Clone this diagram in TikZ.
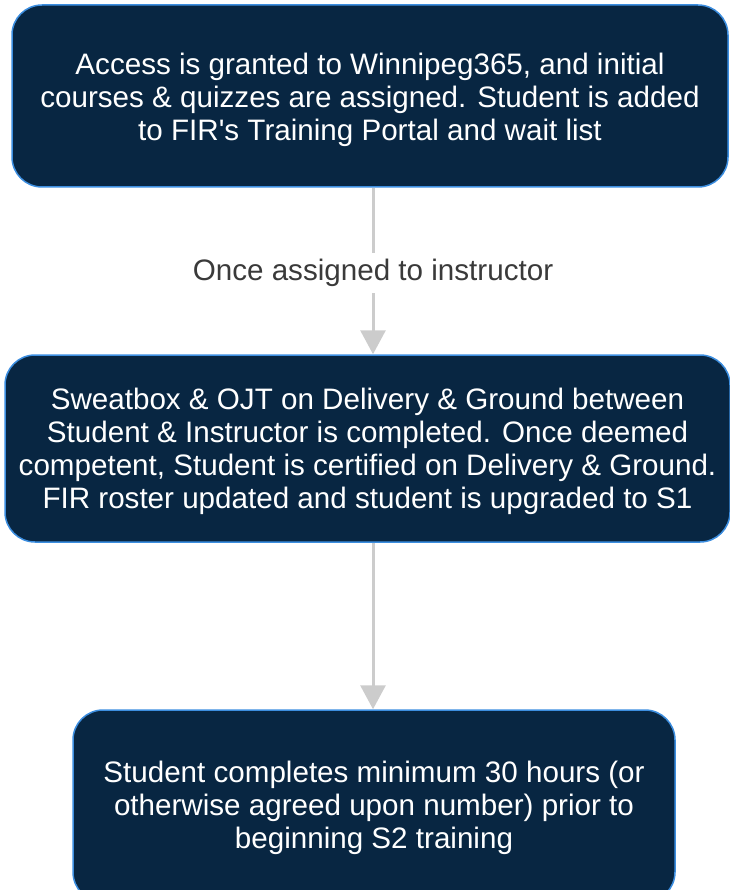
\documentclass[tikz,border=0pt]{standalone}
\usepackage{fontspec}
\setmainfont{Liberation Sans}
\usetikzlibrary{arrows.meta}
\definecolor{navy}{HTML}{082642}
\definecolor{edgeblue}{HTML}{3C8EE0}
\definecolor{arrowgray}{HTML}{CCCCCC}
\definecolor{labelgray}{HTML}{3A3A3A}
\tikzset{
  stepbox/.style={draw=edgeblue, line width=1.5pt, fill=navy, rounded corners=30pt,
    inner sep=0pt},
  boxtext/.style={text=white, align=center, inner sep=0pt,
    font=\fontsize{29.6}{33}\selectfont},
  flowarrow/.style={draw=arrowgray, line width=3pt,
    -{Triangle[width=25pt,length=24pt]}},
  flowlabel/.style={fill=white, text=labelgray, inner sep=6pt,
    font=\fontsize{29.6}{33}\selectfont}
}
\begin{document}
\begin{tikzpicture}[x=1pt,y=-1pt]
\useasboundingbox (0,0) rectangle (729,890);
\node[stepbox, minimum width=716pt, minimum height=182pt] (box1) at (370,96) {};
\node[boxtext] (t1) at ([yshift=-3.5pt]box1.center)
  {Access is granted to Winnipeg365, and initial\\courses \& quizzes are assigned. Student is added\\to FIR\textquotesingle s Training Portal and wait list};
\node[stepbox, minimum width=725pt, minimum height=187pt] (box2) at (367.5,448.5) {};
\node[boxtext] (t2) at ([yshift=-3pt]box2.center)
  {Sweatbox \& OJT on Delivery \& Ground between\\Student \& Instructor is completed. Once deemed\\competent, Student is certified on Delivery \& Ground.\\FIR roster updated and student is upgraded to S1};
\node[stepbox, minimum width=602pt, minimum height=192pt] (box3) at (374,806) {};
\node[boxtext] (t3) at ([yshift=-2pt]box3.center)
  {Student completes minimum 30 hours (or\\otherwise agreed upon number) prior to\\beginning S2 training};
\coordinate (ax) at (373,0);
\draw[flowarrow] (box1.south -| ax) -- node[flowlabel, yshift=-2pt] (lab1) {Once assigned to instructor} (box2.north -| ax);
\draw[flowarrow] (box2.south -| ax) -- (box3.north -| ax);
\end{tikzpicture}
\end{document}
